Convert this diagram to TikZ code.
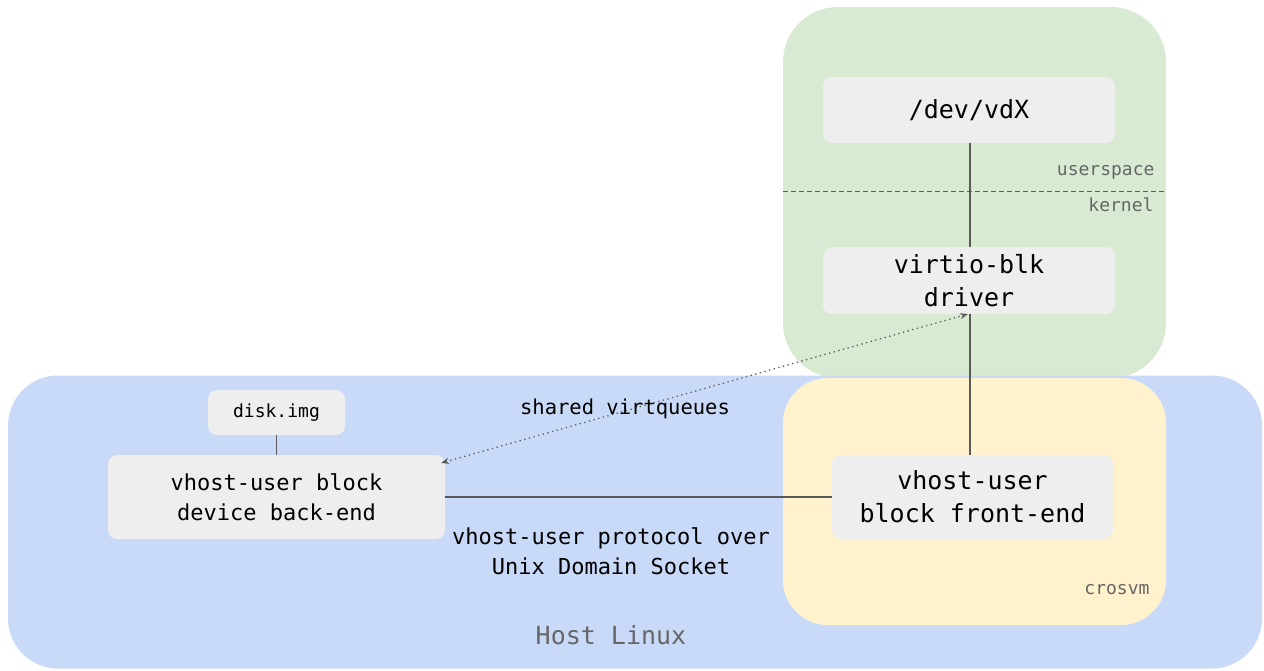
\documentclass[tikz,border=0pt]{standalone}
\usepackage{fontspec}
\setmainfont{DejaVu Sans Mono}
\usetikzlibrary{arrows.meta}
\definecolor{guestgreen}{HTML}{D9EAD3}
\definecolor{hostblue}{HTML}{C9DAF8}
\definecolor{vmyellow}{HTML}{FFF2CC}
\definecolor{boxgray}{HTML}{EEEEEE}
\definecolor{linegray}{HTML}{595959}
\definecolor{labelgray}{HTML}{666666}
\tikzset{
  region/.style={rounded corners=#1, inner sep=0pt, outer sep=0pt},
  compbox/.style={fill=boxgray, rounded corners=9pt, inner sep=0pt, outer sep=0pt, align=center, text=black},
  bigtext/.style={font=\fontsize{25}{33}\selectfont},
  midtext/.style={font=\fontsize{22}{30}\selectfont},
  smalltext/.style={font=\fontsize{18}{22}\selectfont},
  link/.style={draw=linegray, line width=1.2pt},
  shared/.style={draw=linegray, line width=1.3pt, dash pattern=on 1.3pt off 3.5pt, {Stealth[length=8pt,width=6pt]}-{Stealth[length=8pt,width=6pt]}},
}
\begin{document}
\begin{tikzpicture}[x=1pt, y=-1pt]
\useasboundingbox (0,0) rectangle (1264,670);

% guest VM, host and crosvm regions
\node[region=55pt, fill=guestgreen, minimum width=383pt, minimum height=371pt] (guest) at (974.5,192.5) {};
\node[region=50pt, fill=hostblue, minimum width=1254pt, minimum height=293pt] (host) at (635,522) {};
\node[region=45pt, fill=vmyellow, minimum width=383pt, minimum height=247pt] (crosvm) at (974.5,501.5) {};

% userspace / kernel boundary
\coordinate (kl) at (783,191);
\coordinate (kr) at (1166,191);
\draw[draw=linegray, line width=1pt, dash pattern=on 5pt off 3pt] (kl) -- (kr);
\node[smalltext, text=labelgray, anchor=base east] (us) at (1158,175) {userspace};
\node[smalltext, text=labelgray, anchor=base east] (kn) at (1157,211) {kernel};

% components
\node[compbox, bigtext, minimum width=292pt, minimum height=66pt] (vdx) at (969,110) {/dev/vdX};
\node[compbox, bigtext, minimum width=292pt, minimum height=67pt] (virtio) at (969,280.5) {virtio-blk\\driver};
\node[compbox, bigtext, minimum width=281pt, minimum height=84pt] (front) at (972.5,497) {vhost-user\\block front-end};
\node[compbox, midtext, minimum width=337pt, minimum height=84pt] (back) at (276.5,497) {vhost-user block\\device back-end};
\node[compbox, smalltext, minimum width=137pt, minimum height=45pt] (disk) at (276.5,412.5) {disk.img};

% connectors
\draw[link] (vdx.south -| 970,0) -- (virtio.north -| 970,0);
\draw[link] (virtio.south -| 970,0) -- (front.north -| 970,0);
\draw[link] (disk) -- (back);
\draw[link] (back) -- (front);
\coordinate (vq1) at (968,314);
\coordinate (vq2) at (441,463);
\draw[shared] (vq2) -- (vq1);

% labels
\node[font=\fontsize{20.5}{26}\selectfont] (vqlabel) at (625,409) {shared virtqueues};
\node[midtext, align=center] (proto) at (611,551) {vhost-user protocol over\\Unix Domain Socket};
\node[smalltext, text=labelgray, anchor=base east] (vmname) at (1153,594) {crosvm};
\node[bigtext, text=labelgray] (hostname) at (611,635) {Host Linux};
\end{tikzpicture}
\end{document}
